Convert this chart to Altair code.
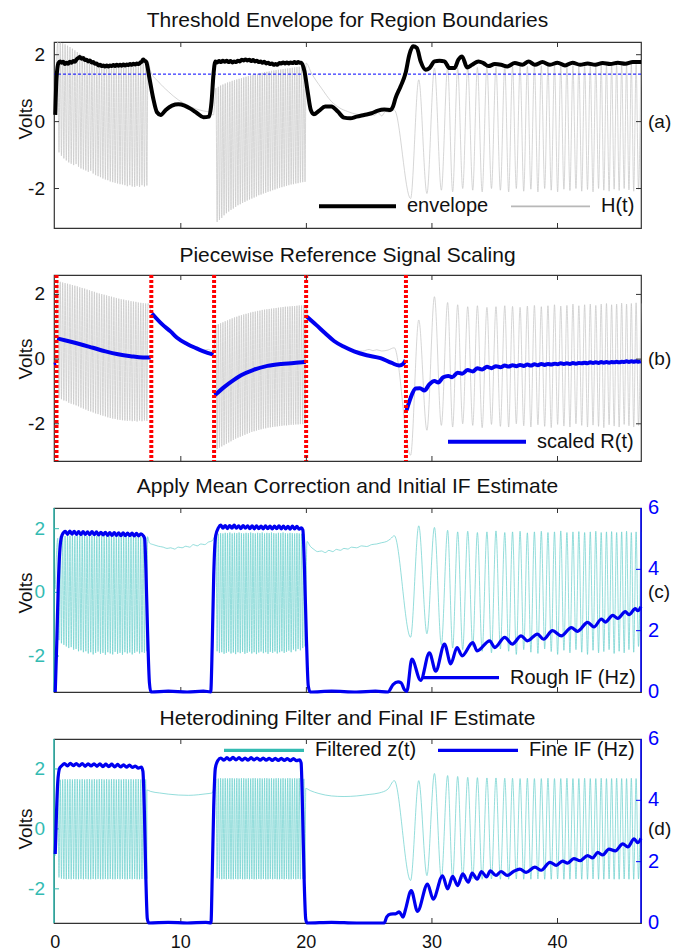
import altair as alt
import numpy as np
import pandas as pd

FONT = "Liberation Sans"
W = 587
HEIGHTS = {"a": 186, "b": 186, "c": 184, "d": 184}
X_DOMAIN = [-0.1, 46.65]
X_TICKS = [10, 20, 30, 40]
X_LABELS = [0, 10, 20, 30, 40]
X_LABEL_TEXT = ["0", "10", "20", "30", "40"]
Y_TICKS = [-2, 0, 2]
Y_LABEL_TEXT = ["-2", "0", "2"]
IF_TICKS = [2, 4]
IF_LABELS = [0, 2, 4, 6]
IF_LABEL_TEXT = ["0", "2", "4", "6"]
Y_DOM = {"a": [-3.18, 2.38], "b": [-3.15, 2.6], "c": [-3.13, 2.65], "d": [-3.14, 3.0]}
IF_DOM = [0, 6]

GRAY = "#C4C4C4"
BLUE = "#0000F0"
RED = "#FF0000"
TEAL = "#33BBB2"
TEAL_LINE = "#66CFCB"
FRAME = "#333333"
INK = "#111111"

TITLES = {
    "a": "Threshold Envelope for Region Boundaries",
    "b": "Piecewise Reference Signal Scaling",
    "c": "Apply Mean Correction and Initial IF Estimate",
    "d": "Heterodining Filter and Final IF Estimate",
}
TITLE_Y = {"a": -15.5, "b": -13.5, "c": -14.8, "d": -13.7}
VOLTS_Y = {"a": 77, "b": 84, "c": 85, "d": 90}

THRESHOLD = 1.42
RED_LINES_T = [0.1, 7.65, 12.65, 19.98, 27.93]

# ---- shared timing of the oscillating regions ----
R1_T = [0.2, 7.2]
R2_T = [12.8, 19.8]
CH_PEAK_T = [27.0, 28.95, 30.2, 31.25, 32.05, 32.85, 33.62, 34.38, 35.1, 35.8, 36.42,
             37.02, 37.6, 38.16, 38.71, 39.24, 39.76, 40.26, 40.75, 41.23, 41.7, 42.16,
             42.61, 43.05, 43.48, 43.9, 44.31, 44.71, 45.11, 45.5, 45.88, 46.26, 46.64]
CH_TROUGH_T = [28.3, 29.6, 30.75, 31.65, 32.45, 33.25, 34.0, 34.74, 35.45, 36.11, 36.72,
               37.31, 37.88, 38.44, 38.98, 39.5, 40.01, 40.51, 40.99, 41.47, 41.93, 42.39,
               42.83, 43.27, 43.69, 44.11, 44.51, 44.91, 45.31, 45.69, 46.07, 46.45]

# ---- (a) H(t) ----
A_PRE = [(0.0, 0.2)]
A_R1_HI = [2.38, 2.36, 2.34, 2.31, 2.27, 2.23, 2.18, 2.13, 2.08, 2.03, 1.98, 1.94, 1.9, 1.86, 1.83,
           1.8, 1.77, 1.75, 1.73, 1.71, 1.7, 1.69, 1.68, 1.68, 1.69, 1.69, 1.7, 1.71, 1.71, 1.72,
           1.73, 1.74, 1.75, 1.77, 1.79, 1.81, 1.83]
A_R1_LO = [-0.92, -1.02, -1.1, -1.16, -1.22, -1.26, -1.3, -1.27, -1.35, -1.4, -1.43, -1.46, -1.5,
           -1.47, -1.55, -1.6, -1.63, -1.66, -1.7, -1.73, -1.75, -1.79, -1.81, -1.83, -1.85, -1.87,
           -1.88, -1.9, -1.93, -1.9, -1.94, -1.95, -1.92, -1.95, -1.9, -1.94, -1.91]
A_GAP1 = [(7.38, 1.8), (7.6, 1.5), (8.2, 1.2), (9.0, 0.9), (9.8, 0.65), (10.5, 0.5), (11.2, 0.38),
          (11.8, 0.32), (12.3, 0.28), (12.6, 0.2)]
A_R2_HI = [1.0, 1.04, 1.08, 1.11, 1.14, 1.17, 1.19, 1.22, 1.24, 1.26, 1.28, 1.3, 1.32, 1.34, 1.36,
           1.38, 1.4, 1.42, 1.43, 1.45, 1.46, 1.48, 1.49, 1.5, 1.52, 1.53, 1.54, 1.55, 1.56, 1.57,
           1.58, 1.59, 1.6, 1.61, 1.62, 1.63, 1.64, 1.65, 1.66]
A_R2_LO = [-3.0, -2.94, -2.88, -2.8, -2.74, -2.69, -2.64, -2.6, -2.55, -2.5, -2.47, -2.43, -2.4,
           -2.36, -2.33, -2.3, -2.27, -2.24, -2.2, -2.18, -2.15, -2.13, -2.1, -2.08, -2.05, -2.03,
           -2.0, -1.98, -1.96, -1.94, -1.92, -1.9, -1.88, -1.87, -1.85, -1.84, -1.82, -1.81, -1.8]
A_GAP2 = [(19.98, 1.75), (20.4, 1.45), (21.2, 1.0), (22.0, 0.6), (22.6, 0.42), (23.3, 0.3),
          (24.0, 0.22), (24.6, 0.2), (25.1, 0.28), (25.4, 0.18), (25.7, 0.27), (26.0, 0.17),
          (26.3, 0.3), (26.6, 0.28)]
A_CH_HI = [0.35, 1.25, 1.6, 1.62, 1.6, 1.63, 1.62, 1.64, 1.63, 1.65, 1.64, 1.66, 1.65, 1.66, 1.67,
           1.66, 1.67, 1.68, 1.67, 1.68, 1.69, 1.68, 1.69, 1.7, 1.69, 1.7, 1.7, 1.71, 1.7, 1.71,
           1.72, 1.72, 1.72]
A_CH_LO = [-2.3, -2.15, -2.05, -2.1, -2.0, -2.05, -2.1, -2.0, -2.05, -2.1, -2.0, -2.08, -2.02, -2.1,
           -2.0, -2.05, -2.1, -2.02, -2.06, -2.0, -2.08, -2.03, -2.1, -2.0, -2.05, -2.08, -2.02,
           -2.06, -2.0, -2.04, -2.08, -2.02]

ENVELOPE = [(0.0, 0.2), (0.1, 1.3), (0.25, 1.75), (0.38, 1.8), (0.5, 1.76), (0.63, 1.79), (0.76, 1.72),
            (0.9, 1.76), (1.03, 1.73), (1.16, 1.79), (1.3, 1.76), (1.43, 1.81), (1.56, 1.79), (1.7, 1.86),
            (1.83, 1.9), (1.96, 1.93), (2.1, 1.88), (2.23, 1.9), (2.36, 1.84), (2.5, 1.85), (2.63, 1.8),
            (2.76, 1.83), (2.9, 1.77), (3.03, 1.78), (3.16, 1.73), (3.3, 1.74), (3.43, 1.68), (3.56, 1.7),
            (3.7, 1.66), (3.83, 1.68), (3.96, 1.65), (4.1, 1.68), (4.23, 1.65), (4.36, 1.68), (4.5, 1.66),
            (4.63, 1.69), (4.76, 1.66), (4.9, 1.7), (5.03, 1.67), (5.16, 1.7), (5.3, 1.67), (5.43, 1.71),
            (5.56, 1.68), (5.7, 1.71), (5.83, 1.69), (5.96, 1.72), (6.1, 1.7), (6.23, 1.73), (6.36, 1.71),
            (6.5, 1.74), (6.63, 1.72), (6.76, 1.76), (6.9, 1.8), (7.0, 1.86), (7.12, 1.82), (7.25, 1.78),
            (7.5, 1.3), (7.8, 0.7), (8.1, 0.28), (8.4, 0.2), (8.8, 0.35), (9.3, 0.48), (9.8, 0.52),
            (10.3, 0.48), (10.8, 0.38), (11.3, 0.25), (11.8, 0.13), (12.25, 0.15), (12.45, 0.6),
            (12.6, 1.4), (12.75, 1.8), (12.9, 1.77), (13.05, 1.81), (13.2, 1.78), (13.35, 1.82),
            (13.5, 1.79), (13.65, 1.82), (13.8, 1.78), (13.95, 1.81), (14.1, 1.77), (14.25, 1.8),
            (14.4, 1.78), (14.55, 1.82), (14.7, 1.8), (14.85, 1.85), (15.0, 1.83), (15.15, 1.86),
            (15.3, 1.83), (15.45, 1.85), (15.6, 1.81), (15.75, 1.84), (15.9, 1.8), (16.05, 1.82),
            (16.2, 1.78), (16.35, 1.8), (16.5, 1.76), (16.65, 1.79), (16.8, 1.74), (16.95, 1.76),
            (17.1, 1.72), (17.25, 1.74), (17.4, 1.7), (17.55, 1.72), (17.7, 1.7), (17.85, 1.75),
            (18.0, 1.74), (18.15, 1.77), (18.3, 1.74), (18.45, 1.77), (18.6, 1.74), (18.75, 1.77),
            (18.9, 1.75), (19.05, 1.78), (19.2, 1.75), (19.35, 1.78), (19.5, 1.76), (19.6, 1.76),
            (19.85, 1.5), (20.1, 0.9), (20.35, 0.35), (20.6, 0.22), (21.0, 0.32), (21.5, 0.45),
            (22.0, 0.45), (22.5, 0.3), (23.0, 0.12), (23.5, 0.1), (24.0, 0.15), (24.6, 0.2),
            (25.2, 0.25), (25.7, 0.33), (26.2, 0.36), (26.7, 0.35), (26.9, 0.45), (27.1, 0.7),
            (27.5, 1.05), (27.9, 1.45), (28.2, 2.0), (28.5, 2.25), (28.8, 2.2), (29.1, 1.8),
            (29.5, 1.55), (29.8, 1.6), (30.2, 1.8), (30.6, 1.82), (31.0, 1.8), (31.4, 1.6),
            (31.8, 1.6), (32.1, 1.85), (32.4, 1.95), (32.8, 1.62), (33.2, 1.7), (33.7, 1.8),
            (34.1, 1.75), (34.5, 1.66), (35.0, 1.72), (35.5, 1.7), (36.0, 1.65), (36.6, 1.75),
            (37.2, 1.7), (37.7, 1.8), (38.2, 1.7), (38.8, 1.78), (39.4, 1.7), (40.0, 1.76),
            (40.6, 1.68), (41.2, 1.76), (41.8, 1.7), (42.4, 1.74), (43.0, 1.7), (43.6, 1.75),
            (44.2, 1.72), (44.8, 1.76), (45.4, 1.73), (46.0, 1.78), (46.65, 1.78)]

# ---- (b) ----
B_PRE = [(0.0, -0.2)]
B_R1_HI = [2.4, 2.39, 2.37, 2.35, 2.33, 2.31, 2.29, 2.27, 2.25, 2.22, 2.2, 2.18, 2.15, 2.13, 2.1,
           2.08, 2.05, 2.03, 2.01, 1.99, 1.97, 1.95, 1.93, 1.91, 1.89, 1.87, 1.85, 1.84, 1.82, 1.81,
           1.79, 1.78, 1.77, 1.75, 1.74, 1.73, 1.72]
B_R1_LO = [-1.2, -1.24, -1.28, -1.3, -1.35, -1.38, -1.4, -1.43, -1.46, -1.5, -1.53, -1.56, -1.6,
           -1.62, -1.65, -1.68, -1.7, -1.73, -1.75, -1.77, -1.8, -1.82, -1.84, -1.85, -1.87, -1.88,
           -1.89, -1.9, -1.91, -1.9, -1.92, -1.91, -1.93, -1.9, -1.92, -1.9, -1.91]
B_GAP1 = [(7.38, 1.72), (7.7, 1.4), (8.5, 1.08), (9.2, 0.86), (9.8, 0.66), (10.5, 0.48), (11.2, 0.36),
          (11.8, 0.28), (12.2, 0.3), (12.6, 0.2)]
B_R2_HI = [1.05, 1.08, 1.11, 1.14, 1.17, 1.2, 1.23, 1.26, 1.29, 1.31, 1.34, 1.36, 1.38, 1.4, 1.42,
           1.44, 1.46, 1.47, 1.49, 1.5, 1.52, 1.53, 1.54, 1.55, 1.56, 1.57, 1.58, 1.59, 1.6, 1.61,
           1.62, 1.62, 1.63, 1.64, 1.64, 1.65, 1.66, 1.66, 1.67]
B_R2_LO = [-2.78, -2.74, -2.7, -2.66, -2.62, -2.58, -2.54, -2.5, -2.46, -2.43, -2.4, -2.37, -2.34,
           -2.31, -2.28, -2.25, -2.23, -2.21, -2.19, -2.17, -2.15, -2.14, -2.12, -2.11, -2.1, -2.09,
           -2.08, -2.07, -2.06, -2.05, -2.05, -2.04, -2.03, -2.03, -2.02, -2.02, -2.01, -2.01, -2.0]
B_GAP2 = [(19.98, 1.67), (20.1, 1.31), (20.8, 1.05), (21.5, 0.8), (22.2, 0.56), (23.0, 0.38),
          (23.8, 0.27), (24.5, 0.25), (25.0, 0.3), (25.3, 0.26), (25.6, 0.29), (26.0, 0.25),
          (26.5, 0.28)]
B_CH_HI = [0.35, 1.21, 1.93, 1.75, 1.68, 1.62, 1.65, 1.6, 1.62, 1.65, 1.63, 1.6, 1.64, 1.66, 1.62,
           1.65, 1.68, 1.64, 1.66, 1.7, 1.65, 1.68, 1.7, 1.66, 1.7, 1.72, 1.68, 1.7, 1.73, 1.7,
           1.72, 1.74, 1.72]
B_CH_LO = [-2.97, -2.2, -2.05, -2.1, -2.0, -2.05, -2.12, -2.02, -2.08, -2.1, -2.0, -2.06, -2.1,
           -2.03, -2.08, -2.12, -2.02, -2.07, -2.1, -2.0, -2.05, -2.1, -2.04, -2.08, -2.12, -2.03,
           -2.07, -2.1, -2.02, -2.06, -2.1, -2.05]

R_SEG0 = [(-0.1, -0.17), (0.08, -0.15)]
R_SEG1 = [(0.15, 0.64), (1.0, 0.56), (2.0, 0.46), (3.0, 0.35), (4.0, 0.24), (5.0, 0.15), (6.0, 0.09),
          (7.0, 0.05), (7.6, 0.05)]
R_SEG2 = [(7.7, 1.41), (8.5, 1.08), (9.2, 0.85), (9.7, 0.66), (10.5, 0.47), (11.2, 0.34), (11.8, 0.24),
          (12.6, 0.14)]
R_SEG3 = [(12.7, -1.12), (13.5, -0.85), (14.2, -0.65), (14.8, -0.5), (15.8, -0.33), (16.9, -0.21),
          (18.0, -0.15), (19.0, -0.12), (19.95, -0.08)]
R_SEG4 = [(20.05, 1.31), (20.8, 1.05), (21.5, 0.8), (22.2, 0.56), (23.0, 0.38), (23.8, 0.24),
          (24.8, 0.12), (25.9, 0.03), (26.8, -0.12), (27.4, -0.2), (27.7, -0.15), (27.9, -0.03)]
R_SEG5 = [(27.98, -1.58), (28.3, -1.2), (28.7, -0.91), (29.05, -0.9), (29.4, -0.97), (29.8, -0.78),
          (30.2, -0.68), (30.5, -0.72), (30.9, -0.56), (31.3, -0.52), (31.6, -0.56), (32.05, -0.42),
          (32.4, -0.45), (32.85, -0.34), (33.25, -0.38), (33.62, -0.28), (34.0, -0.32),
          (34.38, -0.24), (34.74, -0.28), (35.1, -0.22), (35.45, -0.25), (35.8, -0.2),
          (36.11, -0.23), (36.42, -0.19), (36.72, -0.22), (37.02, -0.18), (37.31, -0.21),
          (37.6, -0.17), (37.88, -0.2), (38.16, -0.16), (38.44, -0.19), (38.71, -0.15),
          (38.98, -0.18), (39.24, -0.15), (39.5, -0.17), (39.76, -0.14), (40.01, -0.16),
          (40.26, -0.13), (40.51, -0.15), (40.75, -0.13), (40.99, -0.15), (41.23, -0.12),
          (41.47, -0.14), (41.7, -0.12), (41.93, -0.13), (42.16, -0.11), (42.39, -0.13),
          (42.61, -0.1), (42.83, -0.12), (43.05, -0.1), (43.27, -0.12), (43.48, -0.09),
          (43.69, -0.11), (43.9, -0.09), (44.11, -0.11), (44.31, -0.09), (44.51, -0.1),
          (44.71, -0.08), (44.91, -0.1), (45.11, -0.08), (45.31, -0.09), (45.5, -0.07),
          (45.69, -0.09), (45.88, -0.07), (46.07, -0.08), (46.26, -0.07), (46.45, -0.08),
          (46.64, -0.07)]

# ---- (c) ----
C_PRE = [(0.0, 0.1)]
C_R1_HI = [1.7, 1.76, 1.78, 1.77, 1.79, 1.78, 1.8, 1.77, 1.79, 1.78, 1.8, 1.78, 1.77, 1.79, 1.78,
           1.8, 1.78, 1.77, 1.79, 1.78, 1.77, 1.79, 1.78, 1.76, 1.78, 1.77, 1.76, 1.78, 1.76, 1.75,
           1.77, 1.76, 1.75, 1.76, 1.74, 1.75, 1.74]
C_R1_LO = [-1.5, -1.6, -1.65, -1.7, -1.75, -1.72, -1.8, -1.78, -1.85, -1.82, -1.88, -1.85, -1.92,
           -1.88, -1.95, -1.9, -1.86, -1.93, -1.9, -1.96, -1.88, -1.92, -1.95, -1.87, -1.93, -1.9,
           -1.96, -1.88, -1.92, -1.89, -1.95, -1.9, -1.86, -1.92, -1.88, -1.9, -1.85]
C_GAP1 = [(7.35, 1.75), (7.5, 1.55), (7.8, 1.5), (8.2, 1.45), (8.6, 1.42), (8.9, 1.38), (9.2, 1.4),
          (9.5, 1.36), (9.8, 1.42), (10.1, 1.4), (10.4, 1.45), (10.7, 1.42), (11.0, 1.5),
          (11.3, 1.46), (11.6, 1.52), (11.9, 1.5), (12.2, 1.58), (12.5, 1.62)]
C_R2_HI = [1.8, 1.84, 1.86, 1.85, 1.87, 1.86, 1.88, 1.85, 1.87, 1.86, 1.88, 1.86, 1.85, 1.87, 1.86,
           1.88, 1.86, 1.85, 1.87, 1.86, 1.88, 1.85, 1.87, 1.86, 1.88, 1.86, 1.85, 1.87, 1.86, 1.88,
           1.86, 1.85, 1.87, 1.86, 1.85, 1.86, 1.85, 1.84, 1.83]
C_R2_LO = [-1.85, -1.9, -1.88, -1.93, -1.9, -1.86, -1.92, -1.89, -1.94, -1.88, -1.91, -1.87, -1.93,
           -1.9, -1.86, -1.92, -1.88, -1.94, -1.89, -1.86, -1.91, -1.88, -1.93, -1.87, -1.9, -1.86,
           -1.92, -1.88, -1.85, -1.9, -1.87, -1.83, -1.88, -1.8, -1.85, -1.78, -1.82, -1.75, -1.7]
C_GAP2 = [(20.05, 1.6), (20.3, 1.45), (20.6, 1.35), (20.9, 1.28), (21.2, 1.3), (21.5, 1.25),
          (21.8, 1.32), (22.1, 1.28), (22.4, 1.35), (22.7, 1.32), (23.0, 1.38), (23.3, 1.36),
          (23.6, 1.42), (24.0, 1.4), (24.4, 1.46), (24.8, 1.44), (25.2, 1.5), (25.6, 1.52),
          (26.0, 1.56), (26.4, 1.6), (26.7, 1.68)]
C_CH_HI = [1.78, 2.09, 2.04, 1.95, 1.9, 1.92, 1.88, 1.9, 1.93, 1.88, 1.9, 1.92, 1.87, 1.9, 1.92,
           1.88, 1.9, 1.93, 1.88, 1.9, 1.91, 1.88, 1.9, 1.92, 1.88, 1.9, 1.91, 1.88, 1.9, 1.92, 1.88,
           1.9, 1.9]
C_CH_LO = [-1.41, -1.3, -1.65, -1.75, -1.8, -1.7, -1.85, -1.9, -1.78, -1.85, -1.95, -1.8, -1.88,
           -1.92, -1.78, -1.86, -1.95, -1.82, -1.9, -1.8, -1.88, -1.95, -1.82, -1.9, -1.86, -1.8,
           -1.92, -1.85, -1.9, -1.8, -1.88, -1.7]

C_IF_PRE = [(0.0, 0.0), (0.12, 1.6), (0.25, 3.6), (0.4, 4.8), (0.55, 5.12)]
C_IF_P1_T = [0.8, 7.0]
C_IF_P1 = [5.24, 5.14, 5.25, 5.15, 5.24, 5.14, 5.23, 5.13, 5.23, 5.14, 5.22, 5.13, 5.23, 5.13, 5.22,
           5.12, 5.21, 5.12, 5.21, 5.11, 5.2, 5.11, 5.2, 5.11, 5.19, 5.1, 5.19, 5.1, 5.18, 5.1, 5.18,
           5.09, 5.17, 5.09, 5.16, 5.1]
C_IF_MID = [(7.12, 5.0), (7.22, 4.0), (7.35, 2.0), (7.5, 0.3), (7.62, 0.0), (9.0, 0.03), (10.5, 0.0),
            (11.8, 0.03), (12.38, 0.0), (12.5, 1.5), (12.62, 3.8), (12.78, 5.1)]
C_IF_P2_T = [13.0, 19.6]
C_IF_P2 = [5.36, 5.44, 5.34, 5.43, 5.33, 5.43, 5.34, 5.44, 5.34, 5.42, 5.33, 5.43, 5.34, 5.42, 5.33,
           5.42, 5.32, 5.42, 5.33, 5.41, 5.32, 5.42, 5.33, 5.41, 5.32, 5.41, 5.33, 5.42, 5.32, 5.41,
           5.32, 5.4, 5.31, 5.41, 5.32, 5.4, 5.31, 5.35]
C_IF_POST = [(19.72, 5.28), (19.85, 4.0), (20.0, 1.8), (20.15, 0.2), (20.3, 0.0), (22.0, 0.03),
             (24.0, 0.0), (25.5, 0.03), (26.5, 0.0), (26.9, 0.24), (27.3, 0.33), (27.55, 0.3),
             (27.8, 0.08), (28.0, 0.02), (28.4, 1.07), (29.1, 0.38), (29.8, 1.28), (30.3, 0.68),
             (31.0, 1.56), (31.5, 0.92), (32.0, 1.45), (32.4, 1.18), (33.25, 1.61), (33.6, 1.34),
             (34.6, 1.67), (35.0, 1.45), (35.8, 1.78), (36.4, 1.56), (37.1, 1.83), (37.6, 1.67),
             (38.4, 1.89), (38.9, 1.72), (39.6, 2.0), (40.3, 1.83), (41.1, 2.1), (41.6, 1.98),
             (42.4, 2.27), (42.9, 2.12), (43.5, 2.38), (43.8, 2.28), (44.4, 2.5), (44.8, 2.4),
             (45.4, 2.62), (45.7, 2.52), (46.2, 2.72), (46.4, 2.65), (46.65, 2.78)]

# ---- (d) ----
D_PRE = [(0.0, -0.9)]
D_R1_HI = [1.6, 1.64, 1.65, 1.66, 1.65, 1.66, 1.65, 1.66, 1.66, 1.65, 1.66, 1.65, 1.66, 1.66, 1.65,
           1.66, 1.65, 1.66, 1.66, 1.65, 1.66, 1.65, 1.66, 1.66, 1.65, 1.66, 1.65, 1.66, 1.66, 1.65,
           1.66, 1.65, 1.66, 1.66, 1.65, 1.66, 1.65]
D_R1_LO = [-1.62, -1.66, -1.67, -1.68, -1.67, -1.68, -1.67, -1.68, -1.68, -1.67, -1.68, -1.67,
           -1.68, -1.68, -1.67, -1.68, -1.67, -1.68, -1.68, -1.67, -1.68, -1.67, -1.68, -1.68,
           -1.67, -1.68, -1.67, -1.68, -1.68, -1.67, -1.68, -1.67, -1.68, -1.68, -1.67, -1.68, -1.66]
D_GAP1 = [(7.3, 1.3), (7.6, 1.25), (8.3, 1.2), (9.0, 1.16), (9.8, 1.13), (10.6, 1.12), (11.4, 1.14),
          (12.0, 1.17), (12.5, 1.2)]
D_R2_HI = [1.66, 1.68, 1.69, 1.68, 1.69, 1.68, 1.69, 1.69, 1.68, 1.69, 1.68, 1.69, 1.69, 1.68,
           1.69, 1.68, 1.69, 1.69, 1.68, 1.69, 1.68, 1.69, 1.69, 1.68, 1.69, 1.68, 1.69, 1.69,
           1.68, 1.69, 1.68, 1.69, 1.69, 1.68, 1.69, 1.68, 1.69, 1.68, 1.67]
D_R2_LO = [-1.65, -1.67, -1.68, -1.67, -1.68, -1.67, -1.68, -1.68, -1.67, -1.68, -1.67, -1.68,
           -1.68, -1.67, -1.68, -1.67, -1.68, -1.68, -1.67, -1.68, -1.67, -1.68, -1.68, -1.67,
           -1.68, -1.67, -1.68, -1.68, -1.67, -1.68, -1.67, -1.68, -1.68, -1.67, -1.68, -1.67,
           -1.68, -1.67, -1.66]
D_GAP2 = [(19.95, 1.35), (20.3, 1.28), (21.0, 1.18), (22.0, 1.1), (23.0, 1.08), (24.0, 1.1),
          (25.0, 1.15), (25.8, 1.2), (26.5, 1.33)]
D_CH_HI = [1.61, 1.61, 1.85, 1.78, 1.75, 1.72, 1.71, 1.7, 1.7, 1.69, 1.69, 1.68, 1.69, 1.68, 1.68,
           1.69, 1.68, 1.68, 1.69, 1.68, 1.68, 1.69, 1.68, 1.68, 1.69, 1.68, 1.68, 1.69, 1.68, 1.68,
           1.69, 1.68, 1.68]
D_CH_LO = [-1.72, -1.56, -1.65, -1.66, -1.67, -1.67, -1.68, -1.67, -1.68, -1.68, -1.67, -1.68,
           -1.68, -1.67, -1.68, -1.68, -1.67, -1.68, -1.68, -1.67, -1.68, -1.68, -1.67, -1.68,
           -1.68, -1.67, -1.68, -1.68, -1.67, -1.68, -1.68, -1.67]

D_IF_PRE = [(0.0, 2.25), (0.1, 3.6), (0.2, 4.6), (0.35, 5.05)]
D_IF_P1_T = [0.5, 6.85]
D_IF_P1 = [5.12, 5.2, 5.12, 5.21, 5.13, 5.2, 5.12, 5.2, 5.11, 5.19, 5.12, 5.19, 5.11, 5.19, 5.1,
           5.18, 5.1, 5.18, 5.09, 5.17, 5.09, 5.16, 5.08, 5.15, 5.07, 5.12, 5.05, 5.08]
D_IF_MID = [(6.98, 4.95), (7.1, 3.6), (7.22, 1.4), (7.33, 0.15), (7.45, 0.0), (9.0, 0.02), (10.5, 0.0),
            (12.0, 0.02), (12.4, 0.0), (12.5, 1.5), (12.62, 3.8), (12.75, 5.05)]
D_IF_P2_T = [12.95, 19.45]
D_IF_P2 = [5.3, 5.38, 5.31, 5.39, 5.32, 5.4, 5.32, 5.39, 5.31, 5.38, 5.31, 5.39, 5.32, 5.38, 5.31,
           5.38, 5.31, 5.37, 5.3, 5.37, 5.3, 5.37, 5.3, 5.36, 5.29, 5.36, 5.29, 5.32]
D_IF_POST = [(19.58, 5.22), (19.7, 3.6), (19.83, 1.3), (19.95, 0.12), (20.05, 0.0), (22.0, 0.02),
             (24.0, 0.0), (26.2, 0.0), (26.4, 0.2), (26.7, 0.29), (27.1, 0.3), (27.4, 0.36),
             (27.7, 0.19), (27.9, 0.45), (28.35, 1.06), (28.85, 0.38), (29.65, 1.27), (30.1, 0.78),
             (30.85, 1.54), (31.25, 1.11), (31.65, 1.52), (32.05, 1.22), (32.45, 1.6), (32.9, 1.33),
             (33.2, 1.63), (33.6, 1.43), (33.95, 1.68), (34.35, 1.5), (34.65, 1.7), (35.1, 1.55),
             (35.5, 1.68), (36.0, 1.55), (36.5, 1.68), (37.0, 1.76), (37.5, 1.65), (38.2, 1.82),
             (38.7, 1.72), (39.4, 1.98), (39.9, 1.88), (40.4, 2.02), (40.8, 1.95), (41.3, 2.1),
             (41.8, 2.03), (42.4, 2.2), (42.8, 2.12), (43.2, 2.3), (43.6, 2.22), (44.1, 2.41),
             (44.6, 2.35), (45.2, 2.58), (45.6, 2.48), (46.1, 2.74), (46.4, 2.62), (46.65, 2.76)]


# ---------------- assembly helpers ----------------
def osc_region(t_range, hi, lo):
    n = min(len(hi), len(lo))
    pk = np.linspace(t_range[0], t_range[1], n)
    half = (t_range[1] - t_range[0]) / (n - 1) / 2
    out = []
    for i in range(n):
        out.append((pk[i], hi[i]))
        out.append((pk[i] + half, lo[i]))
    return out


def chirp(hi, lo):
    out = []
    for i, (t, v) in enumerate(zip(CH_PEAK_T, hi)):
        out.append((t, v))
        if i < len(CH_TROUGH_T) and i < len(lo):
            out.append((CH_TROUGH_T[i], lo[i]))
    return out


def frame(pts):
    df = pd.DataFrame(pts, columns=["t", "v"])
    df["i"] = range(len(df))
    return df


def signal(pre, r1hi, r1lo, gap1, r2hi, r2lo, gap2, chhi, chlo):
    pts = (list(pre) + osc_region(R1_T, r1hi, r1lo) + list(gap1)
           + osc_region(R2_T, r2hi, r2lo) + list(gap2) + chirp(chhi, chlo))
    return frame(pts)


def if_signal(pre, p1t, p1, mid, p2t, p2, post):
    pts = (list(pre) + list(zip(np.linspace(p1t[0], p1t[1], len(p1)), p1)) + list(mid)
           + list(zip(np.linspace(p2t[0], p2t[1], len(p2)), p2)) + list(post))
    return frame(pts)


XS = alt.Scale(domain=X_DOMAIN, nice=False, zero=False)
IFS = alt.Scale(domain=IF_DOM, nice=False, zero=False)
ONE = pd.DataFrame({"d": [0]})


def yscale(k):
    return alt.Scale(domain=Y_DOM[k], nice=False, zero=False)


def line_chart(df, color, width, scale):
    return alt.Chart(df).mark_line(color=color, strokeWidth=width, interpolate="monotone",
                                   strokeJoin="round").encode(
        x=alt.X("t:Q", scale=XS, axis=None),
        y=alt.Y("v:Q", scale=scale, axis=None),
        order="i:Q")


def xticks(h):
    d = pd.DataFrame({"x": X_TICKS})
    top = alt.Chart(d).mark_rule(color=FRAME, strokeWidth=1).encode(
        x=alt.X("x:Q", scale=XS, axis=None), y=alt.value(0), y2=alt.value(5))
    bot = alt.Chart(d).mark_rule(color=FRAME, strokeWidth=1).encode(
        x=alt.X("x:Q", scale=XS, axis=None), y=alt.value(h), y2=alt.value(h - 5))
    return [top, bot]


def yticks(scale, values, side, color=FRAME):
    d = pd.DataFrame({"y": values})
    x0, x1 = (0, 5) if side == "left" else (W - 5, W)
    return alt.Chart(d).mark_rule(color=color, strokeWidth=1).encode(
        y=alt.Y("y:Q", scale=scale, axis=None), x=alt.value(x0), x2=alt.value(x1))


def left_labels(k, scale, color=INK):
    d = pd.DataFrame({"v": Y_TICKS, "lab": Y_LABEL_TEXT})
    labs = alt.Chart(d).mark_text(font=FONT, fontSize=19, align="right", baseline="middle",
                                  color=color).encode(
        x=alt.value(-9), y=alt.Y("v:Q", scale=scale, axis=None), text="lab:N")
    volts = alt.Chart(ONE).mark_text(text="Volts", font=FONT, fontSize=19, angle=270, align="center",
                                     baseline="middle", color=INK).encode(
        x=alt.value(-28.5), y=alt.value(VOLTS_Y[k]))
    return [labs, volts]


def right_labels():
    d = pd.DataFrame({"v": IF_LABELS, "lab": IF_LABEL_TEXT})
    return alt.Chart(d).mark_text(font=FONT, fontSize=20, align="left", baseline="middle",
                                  color="#0000FF").encode(
        x=alt.value(W + 7), y=alt.Y("v:Q", scale=IFS, axis=None), text="lab:N")


def bottom_labels(h):
    d = pd.DataFrame({"t": X_LABELS, "lab": X_LABEL_TEXT})
    return alt.Chart(d).mark_text(font=FONT, fontSize=18, align="center", baseline="alphabetic",
                                  color=INK).encode(
        x=alt.X("t:Q", scale=XS, axis=None), y=alt.value(h + 25), text="lab:N")


def edge(side, h, color):
    x = 0 if side == "left" else W
    return alt.Chart(ONE).mark_rule(color=color, strokeWidth=1.5).encode(
        x=alt.value(x), y=alt.value(0), y2=alt.value(h))


def title_mark(k):
    return alt.Chart(ONE).mark_text(text=TITLES[k], font=FONT, fontSize=21, align="center",
                                    baseline="alphabetic", color=INK).encode(
        x=alt.value(W / 2), y=alt.value(TITLE_Y[k]))


def panel_label(k, scale):
    d = pd.DataFrame({"v": [0], "lab": ["(" + k + ")"]})
    return alt.Chart(d).mark_text(font=FONT, fontSize=19, align="left", baseline="middle",
                                  color=INK).encode(
        x=alt.value(W + 7), y=alt.Y("v:Q", scale=scale, axis=None), text="lab:N")


def legend_item(x0, x1, y, color, width, label):
    line = alt.Chart(ONE).mark_rule(color=color, strokeWidth=width).encode(
        x=alt.value(x0), x2=alt.value(x1), y=alt.value(y))
    txt = alt.Chart(ONE).mark_text(text=label, font=FONT, fontSize=20, align="left",
                                   baseline="middle", color=INK).encode(
        x=alt.value(x1 + 11), y=alt.value(y))
    return [line, txt]


# ---------------- panel (a) ----------------
ya = yscale("a")
h_sig = signal(A_PRE, A_R1_HI, A_R1_LO, A_GAP1, A_R2_HI, A_R2_LO, A_GAP2, A_CH_HI, A_CH_LO)
env_df = frame(ENVELOPE)
panel_a = alt.layer(
    line_chart(h_sig, GRAY, 0.7, ya),
    alt.Chart(pd.DataFrame({"v": [THRESHOLD]})).mark_rule(color="#0000FF", strokeWidth=1,
                                                          strokeDash=[3, 2]).encode(
        y=alt.Y("v:Q", scale=ya, axis=None)),
    line_chart(env_df, "black", 4, ya),
    *xticks(HEIGHTS["a"]),
    yticks(ya, Y_TICKS, "left"), yticks(ya, Y_TICKS, "right"),
    *left_labels("a", ya),
    *legend_item(265, 342, 164.3, "black", 4, "envelope"),
    *legend_item(457, 536, 164.3, "#B8B8B8", 1.8, "H(t)"),
    panel_label("a", ya),
    title_mark("a"),
).properties(width=W, height=HEIGHTS["a"])

# ---------------- panel (b) ----------------
yb = yscale("b")
g_sig = signal(B_PRE, B_R1_HI, B_R1_LO, B_GAP1, B_R2_HI, B_R2_LO, B_GAP2, B_CH_HI, B_CH_LO)
r_rows = []
for s, seg in enumerate([R_SEG0, R_SEG1, R_SEG2, R_SEG3, R_SEG4, R_SEG5]):
    for j, (t, v) in enumerate(seg):
        r_rows.append({"seg": s, "t": t, "v": v, "i": j})
r_df = pd.DataFrame(r_rows)
panel_b = alt.layer(
    line_chart(g_sig, GRAY, 0.7, yb),
    alt.Chart(r_df).mark_line(color=BLUE, strokeWidth=4, interpolate="monotone",
                              strokeJoin="round").encode(
        x=alt.X("t:Q", scale=XS, axis=None), y=alt.Y("v:Q", scale=yb, axis=None),
        detail="seg:N", order="i:Q"),
    alt.Chart(pd.DataFrame({"t": RED_LINES_T})).mark_rule(color=RED, strokeWidth=4,
                                                          strokeDash=[3, 2]).encode(
        x=alt.X("t:Q", scale=XS, axis=None)),
    *xticks(HEIGHTS["b"]),
    yticks(yb, Y_TICKS, "left"), yticks(yb, Y_TICKS, "right"),
    *left_labels("b", yb),
    *legend_item(394, 472, 166.7, BLUE, 4, "scaled R(t)"),
    panel_label("b", yb),
    title_mark("b"),
).properties(width=W, height=HEIGHTS["b"])

# ---------------- panel (c) ----------------
yc = yscale("c")
c_sig = signal(C_PRE, C_R1_HI, C_R1_LO, C_GAP1, C_R2_HI, C_R2_LO, C_GAP2, C_CH_HI, C_CH_LO)
c_if = if_signal(C_IF_PRE, C_IF_P1_T, C_IF_P1, C_IF_MID, C_IF_P2_T, C_IF_P2, C_IF_POST)
left_c = alt.layer(
    line_chart(c_sig, TEAL_LINE, 0.7, yc),
    *xticks(HEIGHTS["c"]),
    yticks(yc, Y_TICKS, "left", TEAL),
    *left_labels("c", yc, TEAL),
    edge("left", HEIGHTS["c"], TEAL),
    panel_label("c", yc),
    title_mark("c"),
)
right_c = alt.layer(
    line_chart(c_if, BLUE, 3.2, IFS),
    yticks(IFS, IF_TICKS, "right", "#0000FF"),
    right_labels(),
    edge("right", HEIGHTS["c"], "#0000FF"),
    *legend_item(369, 445, 169.7, BLUE, 3.2, "Rough IF (Hz)"),
)
panel_c = alt.layer(left_c, right_c).resolve_scale(y="independent").properties(
    width=W, height=HEIGHTS["c"])

# ---------------- panel (d) ----------------
yd = yscale("d")
d_sig = signal(D_PRE, D_R1_HI, D_R1_LO, D_GAP1, D_R2_HI, D_R2_LO, D_GAP2, D_CH_HI, D_CH_LO)
d_if = if_signal(D_IF_PRE, D_IF_P1_T, D_IF_P1, D_IF_MID, D_IF_P2_T, D_IF_P2, D_IF_POST)
left_d = alt.layer(
    line_chart(d_sig, TEAL_LINE, 0.7, yd),
    *xticks(HEIGHTS["d"]),
    yticks(yd, Y_TICKS, "left", TEAL),
    *left_labels("d", yd, TEAL),
    edge("left", HEIGHTS["d"], TEAL),
    bottom_labels(HEIGHTS["d"]),
    panel_label("d", yd),
    title_mark("d"),
)
right_d = alt.layer(
    line_chart(d_if, BLUE, 3.2, IFS),
    yticks(IFS, IF_TICKS, "right", "#0000FF"),
    right_labels(),
    edge("right", HEIGHTS["d"], "#0000FF"),
    *legend_item(170, 250, 11.3, TEAL, 3.2, "Filtered z(t)"),
    *legend_item(384, 464, 11.3, BLUE, 3.2, "Fine IF (Hz)"),
)
panel_d = alt.layer(left_d, right_d).resolve_scale(y="independent").properties(
    width=W, height=HEIGHTS["d"])

chart = alt.vconcat(panel_a, panel_b, panel_c, panel_d, spacing=47, bounds="flush").properties(
    padding={"left": 15, "top": 8, "right": 5, "bottom": 2}
).configure_view(stroke=FRAME, strokeWidth=1.2)

chart.save("out.html", embed_options={"renderer": "svg", "actions": False})
